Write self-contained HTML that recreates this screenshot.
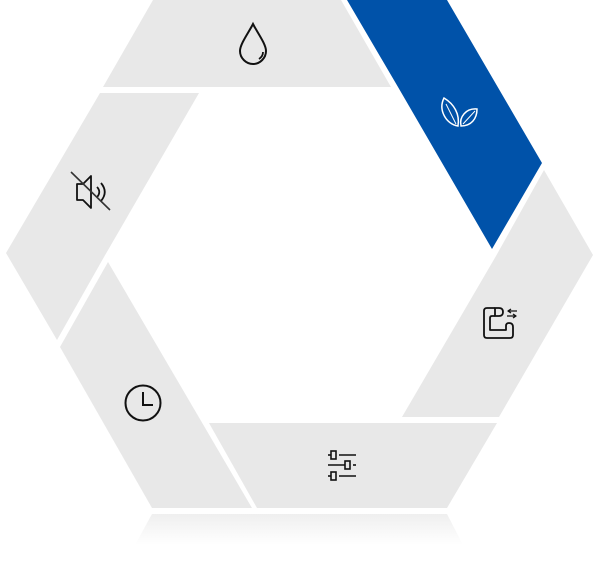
<!DOCTYPE html>
<html><head><meta charset="utf-8"><style>
html,body{margin:0;padding:0;background:#fff;width:600px;height:568px;overflow:hidden}
svg{display:block}
</style></head><body>
<svg width="600" height="568" viewBox="0 0 600 568" xmlns="http://www.w3.org/2000/svg">
<defs>
<linearGradient id="rf" x1="0" y1="0" x2="0" y2="1">
<stop offset="0" stop-color="#efefef"/><stop offset="1" stop-color="#ffffff"/>
</linearGradient>
</defs>
<g fill="#e8e8e8">
<polygon points="153,0 341,0 391,87 103,87"/>
<polygon points="100,93 199,93 104,257 57,340 6,253"/>
<polygon points="108,262 252,508 152,508 60,347"/>
<polygon points="209,423 497,423 447,508 257,508"/>
<polygon points="544,170 593,255 499,417 402,417 496,256"/>
</g>
<polygon points="152,514 447,514 463,545 135,545" fill="url(#rf)"/>
<polygon points="347,0 447,0 542,163 492,249 398,87" fill="#0052a9"/>
<!-- drop -->
<g fill="none" stroke="#111" stroke-width="2">
<path d="M253,24 C249,32 240,44 240,51 C240,58 246,64 253,64 C260,64 266,58 266,51 C266,44 257,32 253,24 Z"/>
<path d="M259,59 C262,57 263,55 263,52" stroke-width="1.8"/>
</g>
<!-- leaves -->
<g fill="none" stroke="#fff" stroke-width="1.5">
<path d="M444,98 C438,110 446,124 458,126 C460,114 454,104 444,98 Z"/>
<path d="M446,104 L456,124" stroke-width="1"/>
<path d="M477,109 C466,108 459,117 461,126 C471,126 477,119 477,109 Z"/>
<path d="M475,111 L463,124" stroke-width="1"/>
</g>
<!-- mute -->
<g fill="none" stroke="#111" stroke-width="1.8">
<path d="M77,184 L83,184 L91,176 L91,208 L83,200 L77,200 Z" stroke-linejoin="round"/>
<path d="M97,187 C100,190 100,194 97,197"/>
<path d="M101,183 C106,189 106,195 101,201"/>
<line x1="71" y1="172" x2="110" y2="210" stroke="#333" stroke-width="1.6"/>
</g>
<!-- plug -->
<g fill="none" stroke="#111" stroke-width="1.8" stroke-linejoin="round">
<path d="M495,308 H487 Q484,308 484,311 V335 Q484,338 487,338 H510 Q513,338 513,335 V327 Q513,323 509,323 Q506,323 506,326 V330 H490 V318 Q490,316 492,316 H495"/>
<path d="M495,308 H499 Q503,308 503,312 Q503,316 499,316 H495 Z"/>
<path d="M508,311 H517 M511,309 L508,311 L511,313" stroke-width="1.3"/>
<path d="M507,316 H516 M513,314 L516,316 L513,318" stroke-width="1.3"/>
</g>
<!-- clock -->
<g fill="none" stroke="#111" stroke-width="2">
<circle cx="143" cy="403" r="17.5"/>
<path d="M143,392 L143,405 L153,405"/>
</g>
<!-- sliders -->
<g fill="none" stroke="#111" stroke-width="1.6">
<line x1="328" y1="455" x2="331" y2="455"/><rect x="331" y="451" width="5" height="8"/><line x1="339" y1="455" x2="356" y2="455"/>
<line x1="328" y1="465" x2="345" y2="465"/><rect x="345" y="461" width="5" height="8"/><line x1="353" y1="465" x2="356" y2="465"/>
<line x1="328" y1="476" x2="331" y2="476"/><rect x="331" y="472" width="5" height="8"/><line x1="339" y1="476" x2="356" y2="476"/>
</g>
</svg>
</body></html>
